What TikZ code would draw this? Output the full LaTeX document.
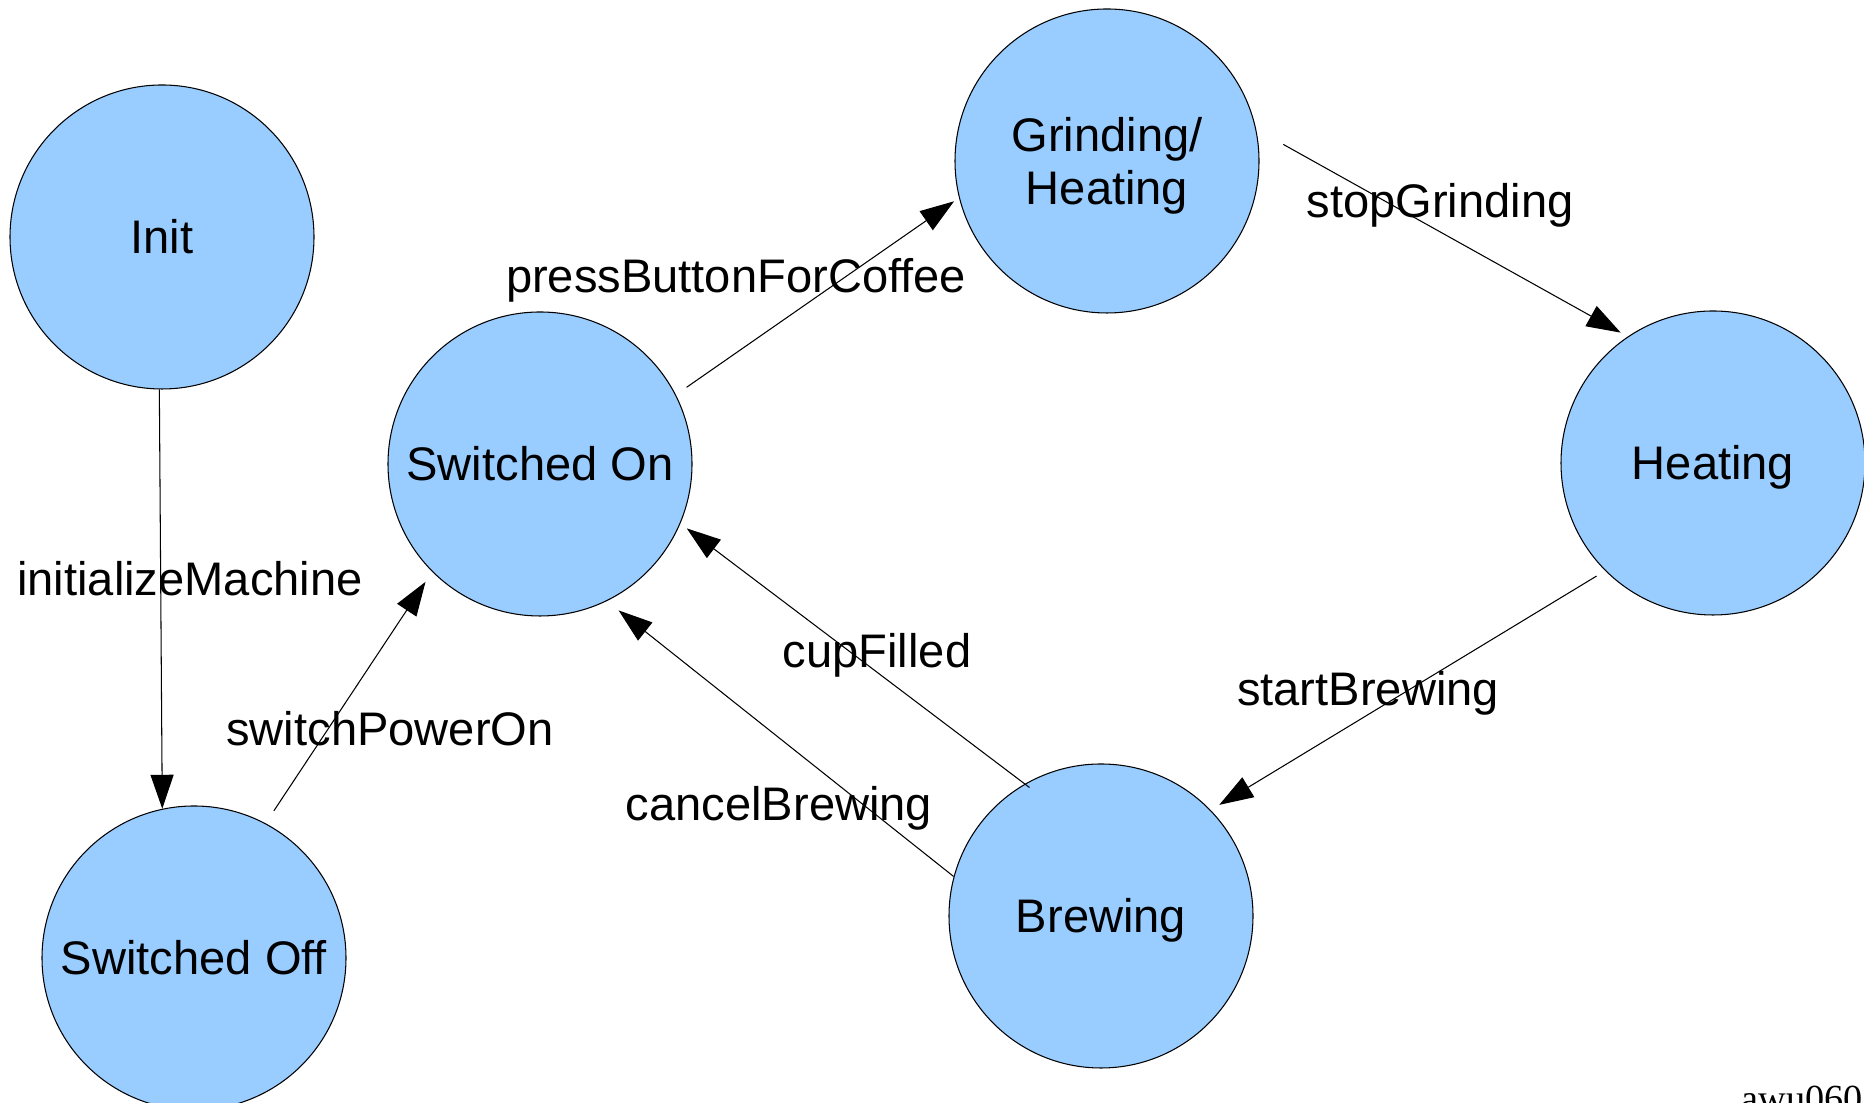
\documentclass[tikz,border=0pt]{standalone}
\usepackage{fontspec}
\setmainfont{Liberation Sans}
\newfontfamily\figfont{Liberation Serif}
\usepackage{xcolor}
\usetikzlibrary{arrows.meta, positioning}
\definecolor{stateblue}{HTML}{99CCFF}
\tikzset{
  state/.style={circle, draw, line width=0.3pt, fill=stateblue, minimum size=3.04cm, inner sep=0pt, align=center, text height=9.6pt, text depth=0pt, font=\fontsize{13.4}{15.2}\selectfont},
  trans/.style={draw, line width=0.3pt, -{Triangle[length=0.34cm,width=0.23cm]}},
  lbl/.style={inner sep=0pt, text height=9.6pt, text depth=0pt, font=\fontsize{13.4}{15.2}\selectfont}
}
\begin{document}
\begin{tikzpicture}
\useasboundingbox (0,0) rectangle (18.64,11.03);
\node[state] (init) at (1.62,8.66) {Init};
\node[state] (son) at (5.40,6.39) {Switched On};
\node[state, text height=24.8pt] (grind) at (11.07,9.42) {Grinding/\\Heating};
\node[state] (heat) at (17.13,6.40) {Heating};
\node[state] (soff) at (1.94,1.45) {Switched Off};
\node[state] (brew) at (11.01,1.87) {Brewing};

\draw[trans] (init.-91) -- (soff.102.5);
\draw[trans, shorten <=0.15cm, shorten >=0.12cm] (soff.62) -- (son.225);
\draw[trans, shorten <=0.13cm, shorten >=0.06cm] (son.27) -- (grind.194);
\draw[trans, shorten <=0.31cm, shorten >=0.08cm] (grind.12) -- (heat.124);
\draw[trans, shorten <=0.10cm, shorten >=0.10cm] (heat.225) -- (brew.44);
\draw[trans, shorten <=-0.06cm, shorten >=0.08cm] (brew.120) -- (son.-23);
\draw[trans, shorten >=0.15cm] (brew.165) -- (son.-64);

\node[lbl] (l1) at (1.90,5.24) {initializeMachine};
\node[lbl] (l2) at (3.90,3.74) {switchPowerOn};
\node[lbl] (l3) at (7.36,8.27) {pressButtonForCoffee};
\node[lbl] (l4) at (14.40,9.02) {stopGrinding};
\node[lbl] (l5) at (13.68,4.14) {startBrewing};
\node[lbl] (l6) at (8.77,4.52) {cupFilled};
\node[lbl] (l7) at (7.79,2.99) {cancelBrewing};
\node[anchor=base west, inner sep=0pt, font=\figfont\fontsize{10.9}{12}\selectfont] (tag) at (17.41,-0.09) {awu0609};
\end{tikzpicture}
\end{document}
